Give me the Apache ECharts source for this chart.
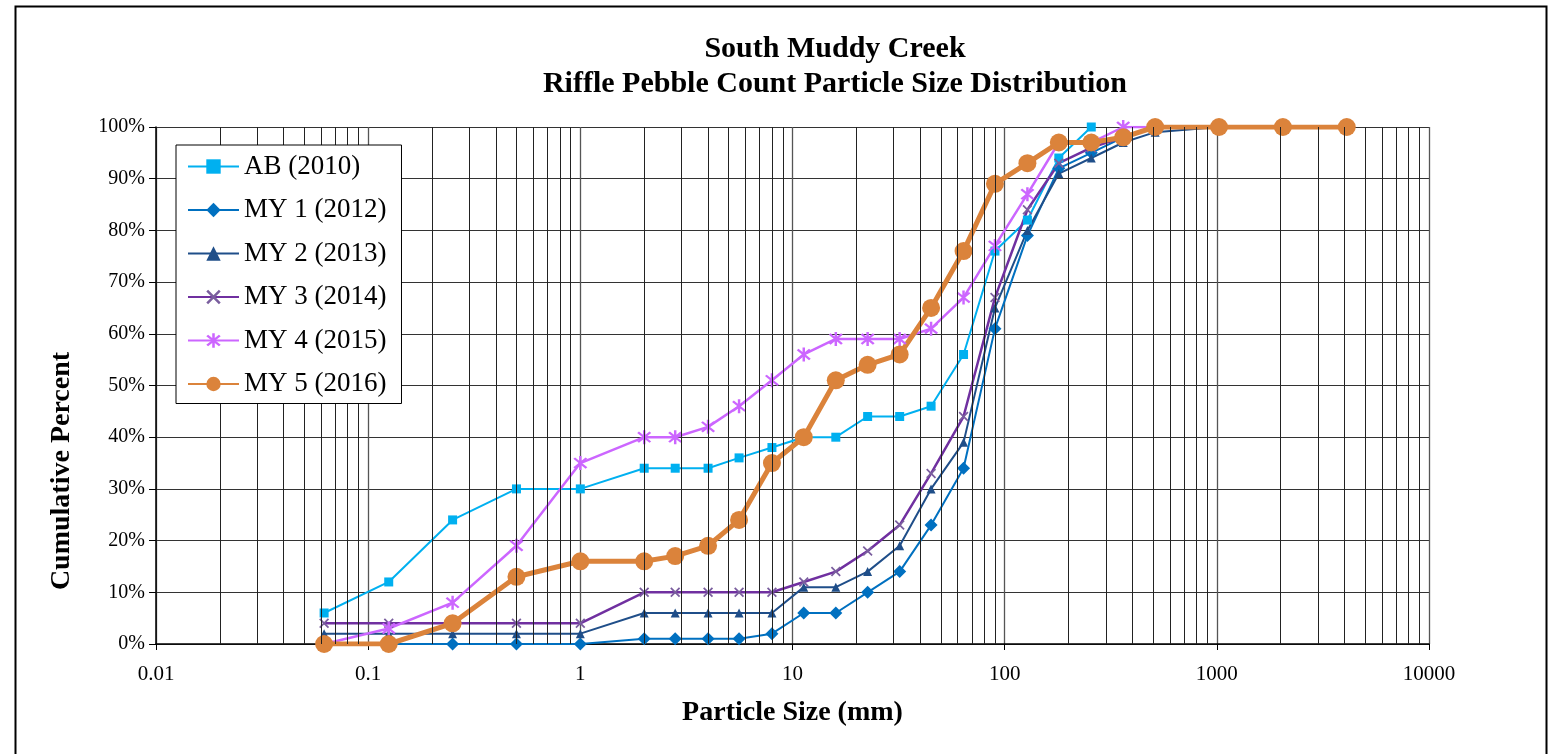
<!DOCTYPE html>
<html>
<head>
<meta charset="utf-8">
<script src="https://cdn.jsdelivr.net/npm/echarts@6/dist/echarts.min.js"></script>
<style>
html,body{margin:0;padding:0;background:#fff;}
#main{width:1549px;height:754px;}
</style>
</head>
<body>
<div id="main"></div>
<script>
// Particle sizes (mm)
const sizes = [0.062,0.125,0.25,0.5,1,2,2.8,4,5.6,8,11.3,16,22.6,32,45,64,90,128,180,256,362,512,1024,2048,4096];
// Cumulative percent per survey
const ab2010  = [6,12,24,30,30,34,34,34,36,38,40,40,44,44,46,56,76,82,94,100];
const my1_2012 = [0,0,0,0,0,1,1,1,1,2,6,6,10,14,23,34,61,79,92,95,98,100];
const my2_2013 = [2,2,2,2,2,6,6,6,6,6,11,11,14,19,30,39,65,80,91,94,97,99,100];
const my3_2014 = [4,4,4,4,4,10,10,10,10,10,12,14,18,23,33,44,67,84,93,96,98,100];
const my4_2015 = [0,3,8,19,35,40,40,42,46,51,56,59,59,59,61,67,77,87,97,97,100,100];
const my5_2016 = [0,0,4,13,16,16,17,19,24,35,40,51,54,56,65,76,89,93,97,97,98,100,100,100,100];
const seriesNames = ['AB (2010)','MY 1 (2012)','MY 2 (2013)','MY 3 (2014)','MY 4 (2015)','MY 5 (2016)'];
const xTickLabels = ['0.01','0.1','1','10','100','1000','10000'];
const yTickLabels = ['0%','10%','20%','30%','40%','50%','60%','70%','80%','90%','100%'];

function pairs(vals){ return vals.map((v,i)=>[sizes[i], v]); }

// minor log gridlines at 2..9 x each decade
const decades = [0.01,0.1,1,10,100,1000];
const minorGrid = [];
decades.forEach(d=>{ for(let m=2;m<=9;m++){ minorGrid.push({xAxis: +(d*m).toPrecision(6)}); } });

function armsPath(angles, len, w){
  let s='';
  angles.forEach(a=>{
    const r=a*Math.PI/180, ux=Math.cos(r), uy=Math.sin(r), vx=-uy, vy=ux;
    const L=len/2, W=w/2, c=10;
    const pts=[[c+ux*L-vx*W,c+uy*L-vy*W],[c+ux*L+vx*W,c+uy*L+vy*W],[c-ux*L+vx*W,c-uy*L+vy*W],[c-ux*L-vx*W,c-uy*L-vy*W]];
    s+='M'+pts.map(p=>p[0].toFixed(3)+' '+p[1].toFixed(3)).join(' L')+' Z ';
  });
  return 'path://'+s;
}
const xSymbol = armsPath([45,135],14,2.0);
const starSymbol = armsPath([45,135,90],14,2.0);

const serif = 'Liberation Serif, Times New Roman, serif';

const chart = echarts.init(document.getElementById('main'), null, {renderer:'canvas'});

function lineSeries(name, vals, color, symbol, size, width, symColor){
  return {
    name, type:'line', data: pairs(vals), z: 3,
    symbol, symbolSize: size, showSymbol: true,
    lineStyle: {color, width},
    itemStyle: {color: symColor || color},
    emphasis: {disabled: true},
    animation: false
  };
}

const option = {
  animation: false,
  backgroundColor: '#ffffff',
  textStyle: {fontFamily: serif},
  title: [
    {text: 'South Muddy Creek', left: 830, top: 29, textAlign: 'center',
     textStyle: {fontFamily: serif, fontWeight: 'bold', fontSize: 30, color: '#000'}},
    {text: 'Riffle Pebble Count Particle Size Distribution', left: 830, top: 64, textAlign: 'center',
     textStyle: {fontFamily: serif, fontWeight: 'bold', fontSize: 30, color: '#000'}}
  ],
  grid: {left: 156, right: 120, top: 127, bottom: 110, containLabel: false},
  legend: {
    orient: 'vertical', left: 176, top: 145,
    padding: [8, 15, 6, 11],
    itemWidth: 51, itemHeight: 18, itemGap: 16.5,
    backgroundColor: '#fff', borderColor: '#000', borderWidth: 1,
    textStyle: {fontFamily: serif, fontSize: 27, color: '#000'},
    data: seriesNames, z: 10
  },
  xAxis: {
    type: 'log', logBase: 10, min: 0.01, max: 10000,
    name: 'Particle Size (mm)', nameLocation: 'middle', nameGap: 55,
    nameTextStyle: {fontFamily: serif, fontWeight: 'bold', fontSize: 28, color: '#000'},
    axisLine: {show: true, onZero: false, lineStyle: {color: '#000', width: 1.5}},
    axisTick: {show: true, inside: false, length: 6, lineStyle: {color: '#000'}},
    axisLabel: {fontFamily: serif, fontSize: 21, color: '#000', margin: 20,
      formatter: function(v){ const i = Math.round(Math.log10(v)) + 2; return xTickLabels[i] !== undefined ? xTickLabels[i] : ''; }},
    splitLine: {show: true, lineStyle: {color: '#555', width: 1.3}},
    minorTick: {show: false}
  },
  yAxis: {
    type: 'value', min: 0, max: 100, interval: 10,
    axisLine: {show: true, lineStyle: {color: '#000', width: 1.5}},
    axisTick: {show: true, inside: false, length: 7, lineStyle: {color: '#000'}},
    axisLabel: {fontFamily: serif, fontSize: 20, color: '#000', margin: 11,
      formatter: function(v){ return yTickLabels[Math.round(v/10)]; }},
    splitLine: {show: true, lineStyle: {color: '#333', width: 1.2}}
  },
  graphic: [
    {type: 'rect', shape: {x: 15.5, y: 6.5, width: 1531, height: 760}, style: {fill: null, stroke: '#000', lineWidth: 2}, silent: true, z: 100},
    {type: 'text', x: 62, y: 471, rotation: Math.PI/2, style: {text: 'Cumulative Percent', fontFamily: serif, fontWeight: 'bold', fontSize: 28, fill: '#000', align: 'center', verticalAlign: 'middle'}, silent: true}
  ],
  series: [
    {type: 'line', name: '__grid', data: [], z: 1, silent: true,
     markLine: {silent: true, symbol: ['none','none'], label: {show: false},
       lineStyle: {color: '#222', width: 1, type: 'solid'}, emphasis: {disabled: true},
       data: minorGrid, animation: false}},
    lineSeries(seriesNames[0], ab2010, '#00B0F0', 'rect', 9, 2),
    lineSeries(seriesNames[1], my1_2012, '#0070C0', 'diamond', 13, 2),
    lineSeries(seriesNames[2], my2_2013, '#1F4E89', 'triangle', 9, 2),
    lineSeries(seriesNames[3], my3_2014, '#7030A0', xSymbol, 10, 2.5, '#7A5E9E'),
    lineSeries(seriesNames[4], my4_2015, '#CC66FF', starSymbol, 14, 2.5),
    lineSeries(seriesNames[5], my5_2016, '#DB833B', 'circle', 18, 5)
  ]
};
chart.setOption(option);
</script>
</body>
</html>
